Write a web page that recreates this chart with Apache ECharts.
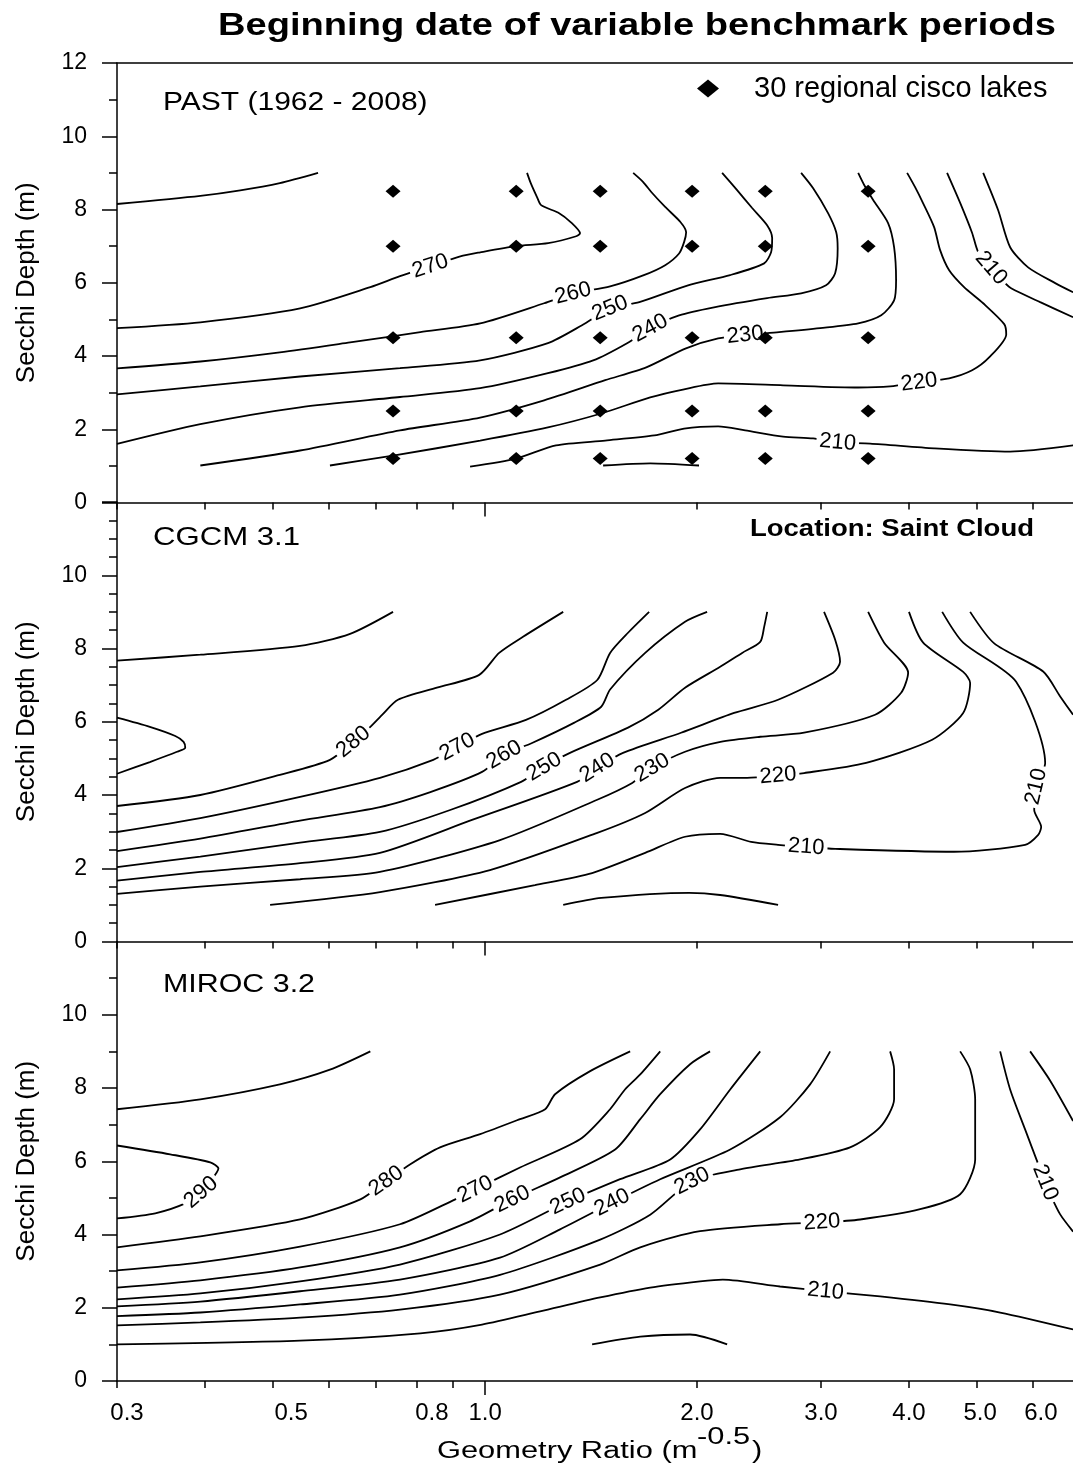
<!DOCTYPE html>
<html>
<head>
<meta charset="utf-8">
<title>Beginning date of variable benchmark periods</title>
<script src="https://cdn.jsdelivr.net/npm/echarts@6/dist/echarts.min.js"></script>
<style>
html, body { margin: 0; padding: 0; background: #fff; }
#chart { width: 1073px; height: 1469px; }
</style>
</head>
<body>
<div id="chart"></div>
<script>
// x = geometry ratio (m^-0.5), y = Secchi depth (m)

// ---- PAST (1962 - 2008) ----
var past280 = [[0.30,8.15],[0.394,8.37],[0.449,8.52],[0.511,8.72],[0.579,9.0]];
var past270 = [[0.30,4.76],[0.394,4.92],[0.546,5.30],[0.687,5.88],[0.757,6.18],[0.836,6.45],[0.922,6.72],[0.984,6.83],[1.107,7.0],[1.229,7.08],[1.347,7.27],[1.364,7.35],[1.324,7.65],[1.274,7.90],[1.201,8.12],[1.185,8.34],[1.161,8.72],[1.147,9.0]];
var past260 = [[0.30,3.66],[0.394,3.85],[0.511,4.10],[0.643,4.37],[0.809,4.65],[0.984,4.89],[1.213,5.44],[1.333,5.71],[1.505,5.90],[1.677,6.20],[1.802,6.48],[1.886,6.80],[1.917,7.11],[1.93,7.38],[1.894,7.66],[1.802,8.07],[1.727,8.45],[1.677,8.75],[1.623,9.0]];
var past250 = [[0.30,2.95],[0.394,3.17],[0.546,3.44],[0.757,3.67],[0.984,3.88],[1.228,4.35],[1.373,4.84],[1.505,5.30],[1.656,5.47],[1.942,5.93],[2.229,6.21],[2.491,6.53],[2.548,6.83],[2.557,7.22],[2.515,7.57],[2.395,8.04],[2.28,8.53],[2.171,9.0]];
var past240 = [[0.30,1.60],[0.394,2.14],[0.546,2.60],[0.757,2.88],[0.984,3.12],[1.228,3.53],[1.424,3.88],[1.591,4.35],[1.716,4.76],[1.886,5.11],[2.114,5.33],[2.516,5.58],[2.811,5.71],[3.05,5.93],[3.142,6.26],[3.168,6.94],[3.153,7.38],[3.07,7.90],[2.924,8.58],[2.811,9.0]];
var past230 = [[0.394,1.01],[0.546,1.42],[0.757,1.97],[0.984,2.32],[1.213,2.79],[1.481,3.34],[1.694,3.69],[1.929,4.21],[2.143,4.48],[2.341,4.57],[2.615,4.65],[2.991,4.76],[3.388,4.89],[3.653,5.11],[3.81,5.52],[3.835,6.07],[3.81,6.97],[3.736,7.63],[3.558,8.26],[3.455,8.67],[3.388,9.0]];
var past220 = [[0.602,1.01],[0.740,1.28],[0.984,1.69],[1.228,2.05],[1.462,2.43],[1.716,2.87],[1.917,3.09],[2.143,3.25],[2.65,3.20],[3.388,3.14],[3.761,3.17],[4.135,3.28],[4.562,3.39],[4.918,3.61],[5.199,3.96],[5.498,4.59],[5.462,4.87],[5.099,5.44],[4.79,5.88],[4.562,6.34],[4.429,6.89],[4.343,7.52],[4.19,8.17],[4.081,8.61],[3.976,9.0]];
var past210a = [[4.531,9.0],[4.729,8.18],[4.918,7.36],[5.016,6.84],[5.233,6.40],[5.479,5.99],[5.587,5.85],[6.144,5.47],[6.842,5.06]];
var past200a = [[5.099,9.0],[5.355,7.98],[5.569,6.97],[5.906,6.42],[6.453,5.99],[6.842,5.74]];
var past210b = [[0.952,0.98],[1.107,1.20],[1.261,1.56],[1.481,1.69],[1.739,1.83],[1.917,2.02],[2.143,2.08],[2.341,1.97],[2.65,1.80],[2.924,1.75],[3.168,1.64],[3.523,1.61],[4.343,1.48],[5.569,1.39],[6.842,1.56]];
var past200b = [[1.471,1.01],[1.716,1.07],[2.013,1.01]];

var lakeRatio = [0.74, 1.107, 1.457, 1.968, 2.50, 3.50];
var lakeDepth = [1.2, 2.5, 4.5, 7.0, 8.5];

// ---- CGCM 3.1 ----
var cgcmTop = [[0.30,7.67],[0.394,7.83],[0.546,8.07],[0.643,8.4],[0.74,9.0]];
var cgcmLoop = [[0.30,6.11],[0.334,5.86],[0.363,5.61],[0.373,5.45],[0.375,5.29],[0.365,5.18],[0.334,4.90],[0.30,4.58]];
var cgcm280 = [[0.30,3.70],[0.394,4.00],[0.511,4.55],[0.602,4.96],[0.65,5.45],[0.687,5.86],[0.714,6.19],[0.752,6.60],[0.854,6.93],[0.981,7.28],[1.047,7.88],[1.132,8.32],[1.291,9.0]];
var cgcm270 = [[0.30,2.99],[0.394,3.37],[0.546,3.95],[0.709,4.47],[0.844,4.96],[0.913,5.31],[0.99,5.67],[1.143,6.05],[1.303,6.60],[1.443,7.14],[1.505,7.88],[1.596,8.43],[1.710,9.0]];
var cgcm260 = [[0.30,2.47],[0.394,2.81],[0.546,3.30],[0.709,3.67],[0.836,4.08],[0.99,4.63],[1.064,5.10],[1.166,5.42],[1.337,5.97],[1.462,6.41],[1.505,6.88],[1.688,7.88],[1.923,8.73],[2.067,9.0]];
var cgcm250 = [[0.30,2.03],[0.394,2.32],[0.546,2.70],[0.709,2.99],[0.892,3.59],[1.125,4.36],[1.213,4.77],[1.32,5.15],[1.596,5.84],[1.762,6.33],[1.923,6.93],[2.157,7.50],[2.318,7.88],[2.459,8.18],[2.491,8.59],[2.516,9.0]];
var cgcm240 = [[0.30,1.66],[0.394,1.90],[0.546,2.14],[0.709,2.42],[0.958,3.32],[1.351,4.36],[1.443,4.74],[1.570,5.15],[1.898,5.70],[2.258,6.24],[2.607,6.60],[3.121,7.34],[3.193,7.64],[3.142,8.24],[3.03,9.0]];
var cgcm230 = [[0.30,1.30],[0.394,1.50],[0.546,1.70],[0.709,1.90],[1.05,2.77],[1.443,3.87],[1.618,4.33],[1.727,4.74],[1.923,5.18],[2.159,5.45],[2.459,5.59],[2.839,5.70],[3.581,6.19],[3.899,6.79],[3.989,7.34],[3.688,8.16],[3.50,9.0]];
var cgcm220 = [[0.495,1.0],[0.709,1.35],[1.016,1.95],[1.44,2.96],[1.688,3.51],[1.923,4.19],[2.157,4.47],[2.356,4.47],[2.607,4.53],[2.839,4.60],[3.477,4.88],[4.316,5.51],[4.776,6.24],[4.886,7.06],[4.776,7.36],[4.19,8.16],[4.0,9.0]];
var cgcm210 = [[4.459,9.0],[4.776,8.16],[5.679,7.09],[6.245,4.87],[6.065,4.23],[6.025,3.59],[6.164,3.13],[6.104,2.91],[5.848,2.64],[4.635,2.45],[3.142,2.53],[2.858,2.58],[2.607,2.64],[2.387,2.72],[2.157,2.94],[1.923,2.86],[1.688,2.42],[1.419,1.87],[1.177,1.54],[0.849,1.0]];
var cgcm200a = [[4.886,9.0],[5.286,8.14],[6.204,7.37],[6.559,6.69],[6.842,6.19]];
var cgcm200b = [[1.291,1.0],[1.462,1.19],[1.949,1.33],[2.157,1.27],[2.607,1.0]];

// ---- MIROC 3.2 ----
var mirocTop = [[0.30,7.42],[0.394,7.69],[0.511,8.1],[0.602,8.5],[0.687,9.0]];
var miroc290 = [[0.30,6.43],[0.357,6.19],[0.407,5.97],[0.418,5.80],[0.405,5.40],[0.395,5.15],[0.375,4.85],[0.34,4.58],[0.30,4.44]];
var miroc280 = [[0.30,3.65],[0.394,3.95],[0.546,4.41],[0.665,4.96],[0.724,5.46],[0.783,5.92],[0.863,6.38],[0.984,6.74],[1.121,7.15],[1.217,7.42],[1.257,7.83],[1.41,8.46],[1.607,9.0]];
var miroc270 = [[0.30,3.02],[0.394,3.24],[0.546,3.67],[0.757,4.28],[0.907,4.96],[0.968,5.23],[1.121,5.83],[1.364,6.60],[1.505,7.42],[1.58,7.96],[1.661,8.37],[1.773,9.0]];
var miroc260 = [[0.30,2.55],[0.394,2.75],[0.546,3.10],[0.757,3.65],[0.952,4.36],[1.093,4.96],[1.278,5.56],[1.53,6.32],[1.661,7.15],[1.773,7.83],[1.955,8.65],[2.087,9.0]];
var miroc250 = [[0.30,2.23],[0.394,2.39],[0.546,2.72],[0.757,3.18],[1.05,4.0],[1.311,4.90],[1.555,5.51],[1.832,6.05],[2.02,6.87],[2.229,7.96],[2.459,9.0]];
var miroc240 = [[0.30,2.04],[0.394,2.17],[0.546,2.45],[0.757,2.77],[1.05,3.37],[1.278,4.14],[1.515,4.87],[1.773,5.51],[2.229,6.32],[2.624,7.20],[2.895,8.10],[3.091,9.0]];
var miroc230 = [[0.30,1.77],[0.394,1.87],[0.546,2.09],[0.757,2.36],[1.05,2.90],[1.457,3.86],[1.716,4.54],[1.968,5.46],[2.303,5.78],[2.802,6.05],[3.299,6.38],[3.64,6.93],[3.81,7.69],[3.81,8.51],[3.761,9.0]];
var miroc220 = [[0.30,1.52],[0.394,1.60],[0.546,1.73],[0.757,1.95],[1.05,2.36],[1.457,3.18],[1.661,3.65],[2.02,4.09],[2.624,4.28],[3.01,4.33],[3.41,4.41],[4.149,4.69],[4.729,5.10],[4.967,6.05],[4.967,7.69],[4.886,8.51],[4.729,9.0]];
var miroc210 = [[0.30,1.0],[0.546,1.10],[0.809,1.30],[0.99,1.54],[1.197,1.90],[1.457,2.28],[1.716,2.55],[2.02,2.72],[2.176,2.77],[2.624,2.58],[3.045,2.45],[3.64,2.31],[4.577,2.09],[5.39,1.87],[6.842,1.41]];
var miroc210v = [[5.39,9.0],[5.569,7.96],[5.848,6.87],[6.144,5.78],[6.245,5.42],[6.348,5.10],[6.559,4.55],[6.842,4.08]];
var miroc200a = [[5.945,9.0],[6.348,8.2],[6.842,7.1]];
var miroc200b = [[1.419,1.0],[1.661,1.21],[1.955,1.27],[2.207,1.0]];

// axis ticks and labels
var xTickVals = [0.3, 0.4, 0.5, 0.6, 0.7, 0.8, 0.9, 1, 2, 3, 4, 5, 6];
var xLabelVals = [0.3, 0.5, 0.8, 1, 2, 3, 4, 5, 6];
var xMajorVals = [1];
var X_MIN = 0.3, X_MAX = 6.84;

var FONT = '"Liberation Sans", Arial, sans-serif';
var lakeName = '30 regional cisco lakes';

// panels: contour lines + [line, vertex index, text] for the labels
var panels = [
    {
        lines: [past280, past270, past260, past250, past240, past230, past220, past210a, past200a, past210b, past200b],
        labels: [[past270, 5, '270'], [past260, 7, '260'], [past250, 7, '250'], [past240, 8, '240'],
                 [past230, 9, '230'], [past220, 11, '220'], [past210b, 10, '210'], [past210a, 4, '210']]
    },
    {
        lines: [cgcmTop, cgcmLoop, cgcm280, cgcm270, cgcm260, cgcm250, cgcm240, cgcm230, cgcm220, cgcm210, cgcm200a, cgcm200b],
        labels: [[cgcm280, 4, '280'], [cgcm270, 5, '270'], [cgcm260, 6, '260'], [cgcm250, 6, '250'],
                 [cgcm240, 6, '240'], [cgcm230, 7, '230'], [cgcm220, 8, '220'], [cgcm210, 11, '210'], [cgcm210, 4, '210']]
    },
    {
        lines: [mirocTop, miroc290, miroc280, miroc270, miroc260, miroc250, miroc240, miroc230, miroc220, miroc210, miroc210v, miroc200a, miroc200b],
        labels: [[miroc290, 5, '290'], [miroc280, 4, '280'], [miroc270, 5, '270'], [miroc260, 5, '260'], [miroc250, 5, '250'],
                 [miroc240, 6, '240'], [miroc230, 7, '230'], [miroc220, 9, '220'], [miroc210, 10, '210'], [miroc210v, 4, '210']]
    }
];

function lg(v) { return Math.log10(v); }
function toXY(arr) { return arr.map(function (p) { return [lg(p[0]), p[1]]; }); }

var black = { color: '#000', width: 1.5 };
var gridTops = [63, 502, 941.5];

var grids = gridTops.map(function (t) {
    return { left: 117, top: t, width: 956, height: 439.5 };
});

// the printed tick labels sit a little off their ticks; shift those right
var labelShift = { '0.3': 'a', '0.5': 'b', '0.8': 'c', '5.0': 'd', '6.0': 'e' };
function shifted(px) {
    return { fontSize: 24, color: '#000', fontFamily: FONT, padding: [0, 0, 0, px] };
}

var xAxes = [];
[0, 1, 2].forEach(function (i) {
    xAxes.push({
        type: 'value', gridIndex: i, min: lg(X_MIN), max: lg(X_MAX), position: 'bottom',
        axisLine: { show: true, onZero: false, lineStyle: black },
        axisTick: { show: true, customValues: xTickVals.map(lg), length: 7, lineStyle: black },
        axisLabel: {
            show: i === 2, customValues: xLabelVals.map(lg), fontSize: 24, color: '#000',
            fontFamily: FONT, margin: 20,
            rich: { a: shifted(20), b: shifted(36), c: shifted(30), d: shifted(6), e: shifted(16) },
            formatter: function (v) {
                var t = Math.pow(10, v).toFixed(1);
                return labelShift[t] ? '{' + labelShift[t] + '|' + t + '}' : t;
            }
        },
        splitLine: { show: false }
    });
});
[0, 1, 2].forEach(function (i) {
    xAxes.push({
        type: 'value', gridIndex: i, min: lg(X_MIN), max: lg(X_MAX), position: 'bottom',
        axisLine: { show: false },
        axisTick: { show: true, customValues: xMajorVals.map(lg), length: 14, lineStyle: black },
        axisLabel: { show: false },
        splitLine: { show: false }
    });
});
xAxes.push({
    type: 'value', gridIndex: 0, min: lg(X_MIN), max: lg(X_MAX), position: 'top',
    axisLine: { show: true, onZero: false, lineStyle: black },
    axisTick: { show: false }, axisLabel: { show: false }, splitLine: { show: false }
});

var yAxes = [0, 1, 2].map(function (i) {
    return {
        type: 'value', gridIndex: i, min: 0, max: 12, interval: 2,
        axisLine: { show: true, onZero: false, lineStyle: black },
        axisTick: { show: true, length: 15, lineStyle: black },
        minorTick: { show: true, splitNumber: i === 1 ? 4 : 2, length: 8, lineStyle: black },
        axisLabel: { fontSize: 23, color: '#000', fontFamily: FONT, margin: 30, showMaxLabel: i === 0 },
        splitLine: { show: false }, minorSplitLine: { show: false },
        name: 'Secchi Depth (m)', nameLocation: 'middle', nameGap: 77,
        nameTextStyle: { fontSize: 26, color: '#000', fontFamily: FONT }
    };
});

var series = [];
panels.forEach(function (p, i) {
    p.lines.forEach(function (arr) {
        series.push({
            type: 'line', xAxisIndex: i, yAxisIndex: i, data: toXY(arr),
            symbol: 'none', smooth: 0.25, silent: true, z: 2,
            lineStyle: { color: '#000', width: 1.8 }
        });
    });
    series.push({
        id: 'labels' + i, type: 'scatter', xAxisIndex: i, yAxisIndex: i, data: [],
        symbol: 'circle', symbolSize: 1, silent: true, z: 5,
        itemStyle: { color: 'rgba(0,0,0,0)' },
        label: {
            show: true, position: 'inside', fontSize: 22, color: '#000', fontFamily: FONT,
            textBorderWidth: 0, opacity: 1, backgroundColor: '#fff', padding: [0, 3]
        }
    });
});

var lakes = [];
lakeRatio.forEach(function (x) {
    lakeDepth.forEach(function (d) { lakes.push([lg(x), d]); });
});
series.push({
    name: lakeName, type: 'scatter', xAxisIndex: 0, yAxisIndex: 0, data: lakes,
    symbol: 'diamond', symbolSize: [15, 13], itemStyle: { color: '#000', opacity: 1 }, z: 6, silent: true
});

function txt(text, x, y, size, sx, bold, align) {
    return {
        type: 'text', x: x, y: y, scaleX: sx, silent: true,
        style: {
            text: text, fill: '#000', fontSize: size, fontFamily: FONT,
            fontWeight: bold ? 'bold' : 'normal',
            align: align || 'left', textAlign: align || 'left',
            verticalAlign: 'middle', textVerticalAlign: 'middle'
        }
    };
}

var option = {
    animation: false,
    backgroundColor: '#fff',
    grid: grids,
    xAxis: xAxes,
    yAxis: yAxes,
    legend: {
        data: [{ name: lakeName, icon: 'diamond', itemStyle: { opacity: 1 } }], left: 692, top: 69,
        itemWidth: 22, itemHeight: 18, selectedMode: false,
        textStyle: { fontSize: 29, color: '#000', fontFamily: FONT, padding: [0, 0, 0, 30] }
    },
    graphic: [
        txt('Beginning date of variable benchmark periods', 637, 26, 32, 1.19, true, 'center'),
        txt('PAST (1962 - 2008)', 163, 103, 25, 1.2),
        txt('CGCM 3.1', 153, 538, 25, 1.245),
        txt('MIROC 3.2', 163, 985, 25, 1.216),
        txt('Location: Saint Cloud', 750, 530, 23, 1.195, true),
        txt('Geometry Ratio (m', 437, 1452, 23, 1.34),
        txt('-0.5', 697, 1438, 23, 1.34),
        txt(')', 752, 1452, 23, 1.34)
    ],
    series: series
};

var chart = echarts.init(document.getElementById('chart'), null, { renderer: 'canvas' });
chart.setOption(option);

// rotate each contour label along its line, using the pixel positions of the neighbours
var labelSeries = panels.map(function (p, i) {
    var finder = { xAxisIndex: i, yAxisIndex: i };
    var data = p.labels.map(function (l) {
        var arr = l[0], k = l[1];
        var a = chart.convertToPixel(finder, [lg(arr[k - 1][0]), arr[k - 1][1]]);
        var b = chart.convertToPixel(finder, [lg(arr[k + 1][0]), arr[k + 1][1]]);
        var ang = Math.atan2(a[1] - b[1], b[0] - a[0]) * 180 / Math.PI;
        if (ang > 90) ang -= 180;
        if (ang < -90) ang += 180;
        return { value: [lg(arr[k][0]), arr[k][1]], label: { formatter: l[2], rotate: ang } };
    });
    return { id: 'labels' + i, data: data };
});
chart.setOption({ series: labelSeries });
</script>
</body>
</html>
